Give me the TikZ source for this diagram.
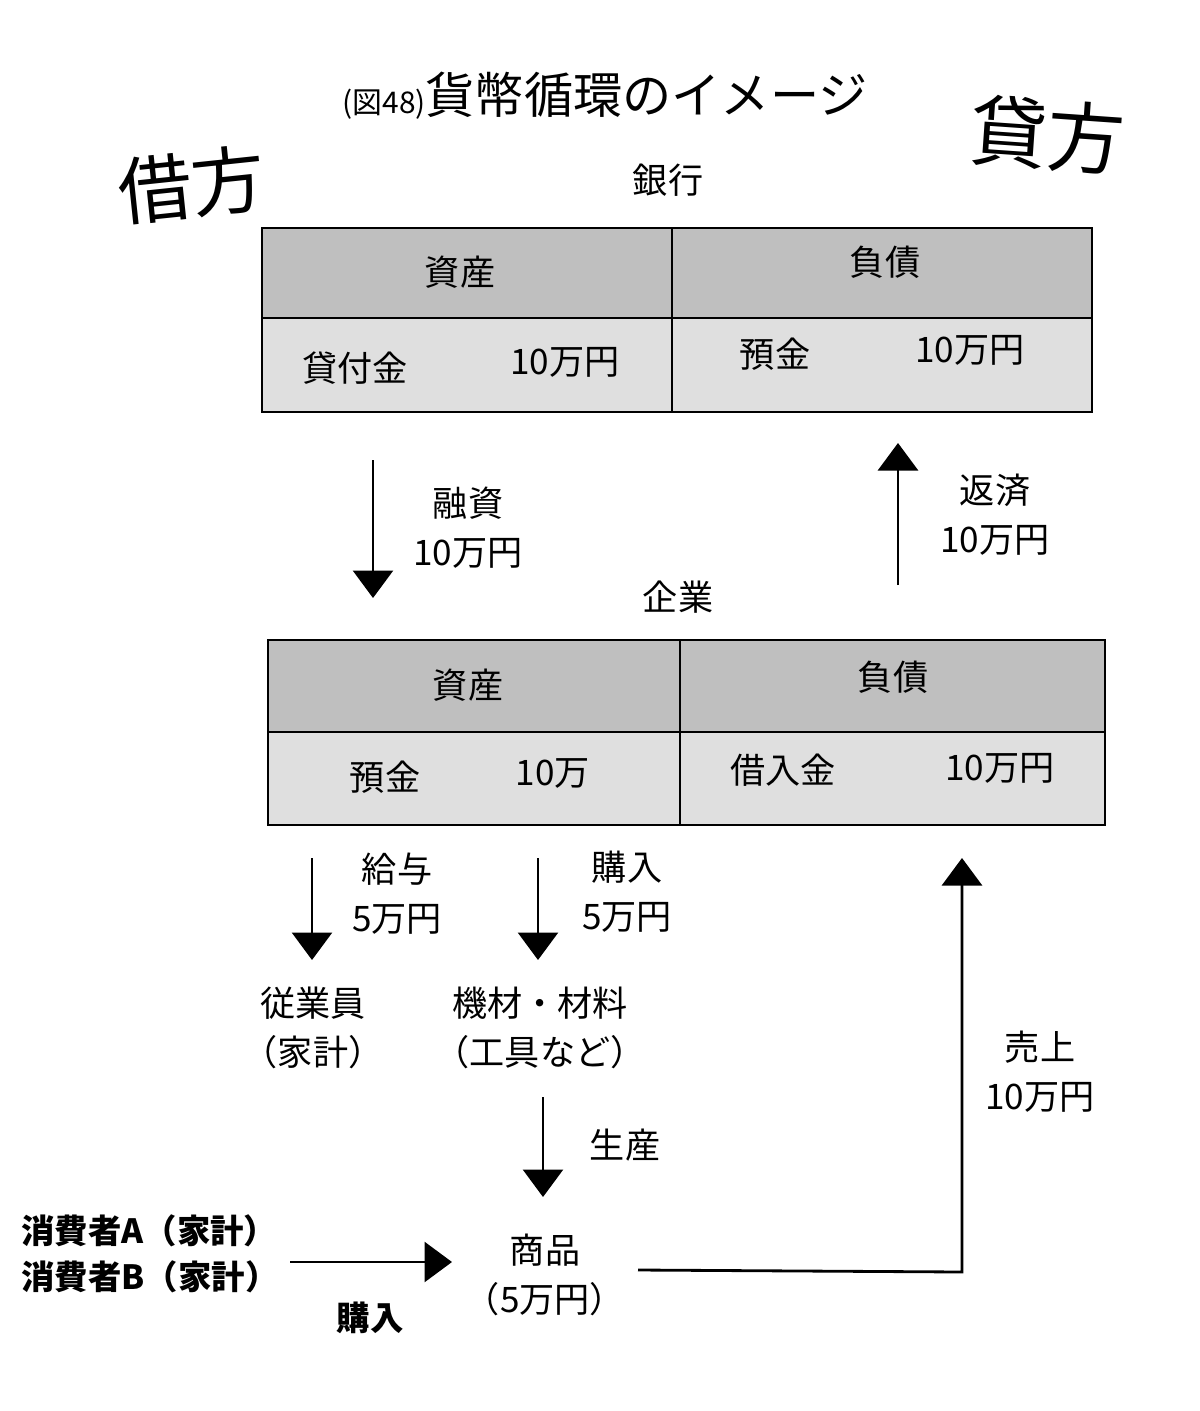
\documentclass[tikz,border=0pt]{standalone}
\usepackage{fontspec}
\setmainfont{Noto Sans CJK JP}
\usetikzlibrary{positioning,arrows.meta}

\begin{document}
\begin{tikzpicture}[x=0.02cm,y=-0.02cm,
	tstyle/.style={font=\fontsize{20}{28}\selectfont, inner sep=1pt},
	hstyle/.style={fill=gray!50, draw=black, very thick},
	bstyle/.style={fill=gray!25, draw=black, very thick},
	astyle/.style={line width=1.6pt, -{Triangle[length=5.5mm,width=8mm]}}
	]
	\useasboundingbox (0,0) rectangle (1200,1411);
	% title and handwriting
	\node[font=\fontsize{28}{32}\selectfont] (title) at (605,96) {{\fontsize{17}{20}\selectfont(図48)}貨幣循環のイメージ};
	\node[font=\fontsize{42}{46}\selectfont, rotate=6] (kari) at (192,185) {借方};
	\node[font=\fontsize{44}{48}\selectfont, rotate=-4] (kashi) at (1048,135) {貸方};
	
	% bank
	\node[tstyle] (bank) at (668,180) {銀行};
	\draw[hstyle] (262,228) rectangle (1092,318);
	\draw[bstyle] (262,318) rectangle (1092,412);
	\draw[very thick] (672,228) -- (672,412);
	\node[tstyle] (b1) at (460,272) {資産};
	\node[tstyle] (b2) at (885,262) {負債};
	\node[tstyle] (b3) at (355,368) {貸付金};
	\node[tstyle] (b4) at (565,362) {10万円};
	\node[tstyle] (b5) at (775,354) {預金};
	\node[tstyle] (b6) at (970,350) {10万円};
	
	% firm
	\node[tstyle] (firm) at (678,597) {企業};
	\draw[hstyle] (268,640) rectangle (1105,732);
	\draw[bstyle] (268,732) rectangle (1105,825);
	\draw[very thick] (680,640) -- (680,825);
	\node[tstyle] (f1) at (468,685) {資産};
	\node[tstyle] (f2) at (893,677) {負債};
	\node[tstyle] (f3) at (385,777) {預金};
	\node[tstyle] (f4) at (553,773) {10万};
	\node[tstyle] (f5) at (783,770) {借入金};
	\node[tstyle] (f6) at (1000,768) {10万円};
	
	% bank <-> firm
	\coordinate (c1) at (373,460);
	\coordinate (c2) at (373,598);
	\draw[astyle] (c1) -- (c2);
	\node[tstyle, align=center] (loan) at (468,528) {融資\\10万円};
	\coordinate (c3) at (898,585);
	\coordinate (c4) at (898,443);
	\draw[astyle] (c3) -- (c4);
	\node[tstyle, align=center] (repay) at (995,515) {返済\\10万円};
	
	% firm -> households, materials
	\node[tstyle, align=center] (emp) at (313,1028) {従業員\\（家計）};
	\node[tstyle, align=center] (mat) at (540,1028) {機材・材料\\（工具など）};
	\coordinate (c5) at (312,858);
	\coordinate (c6) at (312,960);
	\draw[astyle] (c5) -- (c6);
	\node[tstyle, align=center] (wage) at (397,894) {給与\\5万円};
	\coordinate (c7) at (538,858);
	\coordinate (c8) at (538,960);
	\draw[astyle] (c7) -- (c8);
	\node[tstyle, align=center] (buy1) at (627,892) {購入\\5万円};
	
	% goods
	\node[tstyle, align=center] (goods) at (545,1275) {商品\\（5万円）};
	\coordinate (c9) at (543,1097);
	\coordinate (c10) at (543,1197);
	\draw[astyle] (c9) -- (c10);
	\node[tstyle] (prod) at (625,1145) {生産};
	
	% consumers
	\node[tstyle, font=\fontsize{19}{26}\selectfont\bfseries, align=left] (cons) at (150,1254) {消費者A（家計）\\消費者B（家計）};
	\coordinate (c11) at (290,1262);
	\coordinate (c12) at (452,1262);
	\draw[astyle] (c11) -- (c12);
	\node[tstyle, font=\fontsize{19}{22}\selectfont\bfseries] (buy2) at (370,1318) {購入};
	
	% sales
	\coordinate (c13) at (638,1270);
	\coordinate (c14) at (962,1272);
	\coordinate (c15) at (962,858);
	\draw[astyle] (c13) -- (c14) -- (c15);
	\node[tstyle, align=center] (sales) at (1040,1072) {売上\\10万円};
\end{tikzpicture}
\end{document}
